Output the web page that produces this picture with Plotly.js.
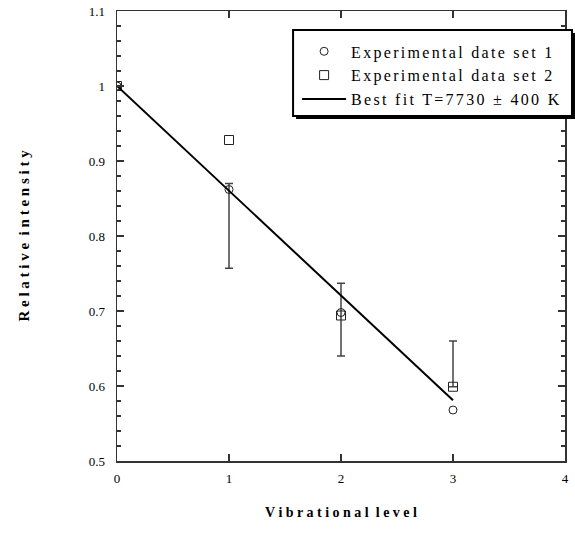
<!DOCTYPE html>
<html><head><meta charset="utf-8">
<script src="https://cdn.plot.ly/plotly-3.0.1.min.js"></script>
<style>body{margin:0;background:#fff}#c{width:575px;height:539px}#c .legendtext{letter-spacing:2.3px}#c .legend .scrollbox,#c .legend{clip-path:none !important}</style>
</head><body><div id="c"></div>
<script>
const levels = [0, 1, 2, 3];
const set1 = [1.0, 0.862, 0.698, 0.568];
const set2 = [1.0, 0.928, 0.694, 0.599];
const fitX = [0, 3];
const fitY = [1.0, 0.581];
const errX = [1, 2, 3];
const errCenter = [0.862, 0.698, 0.599];
const errPlus = [0.008, 0.039, 0.061];
const errMinus = [0.105, 0.058, 0.0];
const names = ['Experimental date set 1', 'Experimental data set 2', 'Best fit T=7730 \u00b1 400 K'];

const font = 'Liberation Serif';
const traces = [
  {x: errX, y: errCenter, mode: 'markers', marker: {size: 1, opacity: 0}, showlegend: false, hoverinfo: 'skip',
   error_y: {type: 'data', symmetric: false, array: errPlus, arrayminus: errMinus, color: '#444', thickness: 1.5, width: 4}},
  {x: levels, y: set1, name: names[0], mode: 'markers',
   marker: {symbol: 'circle-open', size: 8, color: '#222', line: {width: 1}}},
  {x: levels, y: set2, name: names[1], mode: 'markers',
   marker: {symbol: 'square-open', size: 9, color: '#222', line: {width: 1}}},
  {x: fitX, y: fitY, name: names[2], mode: 'lines', line: {color: '#000', width: 2}}
];
const ax = {
  showline: true, linecolor: '#333', linewidth: 1.5, mirror: 'ticks', ticks: 'inside', ticklen: 7,
  tickcolor: '#333', tickwidth: 1.5, showgrid: false, zeroline: false,
  tickfont: {family: font, size: 13, color: '#000'}
};
const layout = {
  width: 575, height: 539,
  margin: {l: 117, r: 10, t: 11, b: 78},
  paper_bgcolor: '#fff', plot_bgcolor: '#fff',
  showlegend: true,
  xaxis: Object.assign({}, ax, {range: [0, 4], dtick: 1, tick0: 0, ticklabelstandoff: 5,
    title: {text: 'V i b r a t i o n a l  l e v e l', font: {family: font, size: 14, color: '#000', weight: 'bold'}, standoff: 22}}),
  yaxis: Object.assign({}, ax, {range: [0.5, 1.1], dtick: 0.1, tick0: 0.5, ticklabelstandoff: 8,
    minor: {dtick: 0.02, ticks: 'inside', ticklen: 4, tickcolor: '#333', tickwidth: 1.5, showgrid: false},
    title: {text: 'R e l a t i v e  i n t e n s i t y', font: {family: font, size: 15, color: '#000', weight: 'bold'}, standoff: 55}}),
  legend: {x: 0.402, y: 0.948, xanchor: 'left', yanchor: 'top', bgcolor: 'rgba(0,0,0,0)', borderwidth: 0,
    font: {family: font, size: 16, color: '#000'}, tracegroupgap: 0, itemwidth: 44},
  shapes: [
    {type: 'rect', xref: 'paper', yref: 'paper', x0: 0.3997, x1: 1.0223, y0: 0.760, y1: 0.951,
     fillcolor: '#000', line: {width: 0}, layer: 'above'},
    {type: 'rect', xref: 'paper', yref: 'paper', x0: 0.393, x1: 1.0156, y0: 0.7667, y1: 0.9578,
     fillcolor: '#fff', line: {width: 2, color: '#000'}, layer: 'above'}
  ]
};
Plotly.newPlot('c', traces, layout, {displayModeBar: false, staticPlot: true});
</script></body></html>
